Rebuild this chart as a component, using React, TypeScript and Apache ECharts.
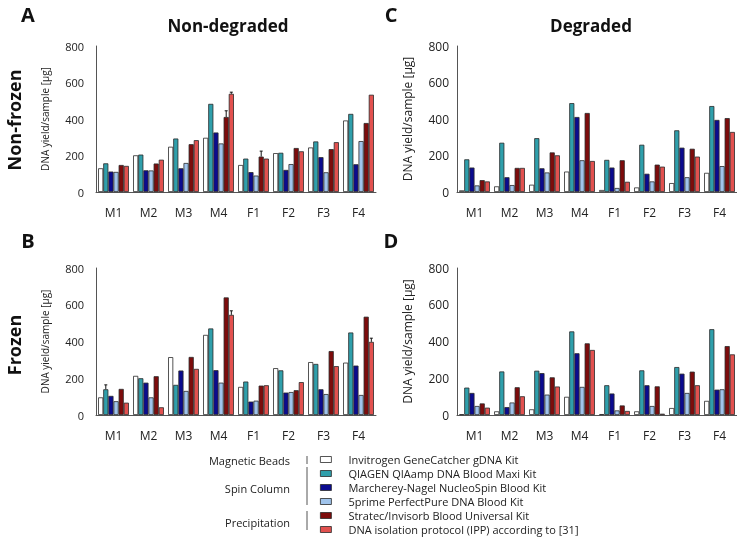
import { useEffect, useRef } from "react";
import * as echarts from "echarts";

const categories = ["M1", "M2", "M3", "M4", "F1", "F2", "F3", "F4"];
const kitNames = [
  "Invitrogen GeneCatcher gDNA Kit",
  "QIAGEN QIAamp DNA Blood Maxi Kit",
  "Marcherey-Nagel NucleoSpin Blood Kit",
  "5prime PerfectPure DNA Blood Kit",
  "Stratec/Invisorb Blood Universal Kit",
  "DNA isolation protocol (IPP) according to [31]",
];

// Panel A: non-degraded, non-frozen (rows = kits, columns = categories)
const panelA = [
  [130, 201, 248, 297, 148, 213, 244, 392],
  [157, 205, 293, 483, 183, 215, 277, 428],
  [112, 119, 130, 326, 109, 121, 191, 152],
  [110, 118, 159, 266, 90, 153, 108, 279],
  [148, 156, 262, 411, 194, 241, 235, 378],
  [143, 177, 284, 538, 183, 223, 273, 533],
];
// Panel B: non-degraded, frozen
const panelB = [
  [96, 213, 315, 436, 153, 255, 288, 285],
  [140, 200, 164, 471, 182, 243, 278, 449],
  [104, 176, 242, 244, 73, 122, 140, 269],
  [75, 96, 131, 176, 78, 125, 114, 109],
  [142, 211, 316, 640, 160, 135, 348, 535],
  [67, 42, 251, 545, 162, 179, 266, 398],
];
// Panel C: degraded, non-frozen
const panelC = [
  [9, 31, 40, 112, 11, 25, 49, 105],
  [179, 270, 295, 487, 176, 259, 338, 471],
  [134, 81, 130, 411, 134, 100, 243, 395],
  [36, 38, 107, 174, 22, 58, 81, 142],
  [65, 132, 217, 433, 174, 150, 237, 405],
  [58, 132, 201, 170, 56, 139, 194, 329],
];
// Panel D: degraded, frozen
const panelD = [
  [4, 20, 31, 99, 5, 20, 38, 77],
  [149, 237, 241, 455, 162, 243, 261, 467],
  [120, 43, 228, 336, 117, 162, 225, 138],
  [49, 68, 111, 153, 25, 49, 120, 140],
  [63, 151, 205, 390, 52, 156, 236, 375],
  [40, 102, 155, 354, 22, 7, 162, 330],
];

// Visible error bars: [kit index, category index, error]
const errorsA = [
  [4, 3, 34],
  [5, 3, 9],
  [4, 4, 30],
];
const errorsB = [
  [1, 0, 24],
  [5, 3, 22],
  [5, 7, 20],
];
const errorsC: number[][] = [];
const errorsD: number[][] = [];

const yTicks = [0, 200, 400, 600, 800];

const kitColors = ["#ffffff", "#2f9fab", "#0b0b8f", "#a0c4ec", "#7d0c0c", "#e2514f"];
const FONT = "'Open Sans', 'Noto Sans', sans-serif";

const panels = [
  { data: panelA, errors: errorsA, left: 96, top: 46, height: 146, labelSize: 11, nameSize: 10, labelMargin: 12, nameGap: 46 },
  { data: panelC, errors: errorsC, left: 457, top: 46, height: 146, labelSize: 12, nameSize: 12, labelMargin: 8, nameGap: 44 },
  { data: panelB, errors: errorsB, left: 96, top: 268, height: 147, labelSize: 11, nameSize: 10, labelMargin: 12, nameGap: 46 },
  { data: panelD, errors: errorsD, left: 457, top: 268, height: 147, labelSize: 12, nameSize: 12, labelMargin: 8, nameGap: 44 },
];

const CAT_GAP = 0.12;

export default function App() {
  const ref = useRef<HTMLDivElement>(null);

  useEffect(() => {
    if (!ref.current) return;
    const chart = echarts.init(ref.current, undefined, { renderer: "svg" });

    const grid = panels.map((p) => ({ left: p.left, top: p.top, width: 280, height: p.height }));
    const xAxis = panels.map((p, i) => ({
      type: "category",
      gridIndex: i,
      data: categories,
      axisLine: { lineStyle: { color: "#555", width: 1 } },
      axisTick: { show: false },
      axisLabel: { fontSize: 12, color: "#222", margin: 14, fontFamily: FONT },
    }));
    const yAxis = panels.map((p, i) => ({
      type: "value",
      gridIndex: i,
      min: yTicks[0],
      max: yTicks[yTicks.length - 1],
      interval: yTicks[1] - yTicks[0],
      splitLine: { show: false },
      axisLine: { show: true, lineStyle: { color: "#555", width: 1 } },
      axisTick: { show: false },
      axisLabel: { fontSize: p.labelSize, color: "#222", margin: p.labelMargin, fontFamily: FONT },
      name: "DNA yield/sample [µg]",
      nameLocation: "middle",
      nameGap: p.nameGap,
      nameTextStyle: { fontSize: p.nameSize, color: "#222", fontFamily: FONT },
    }));

    const series: any[] = [];
    panels.forEach((p, i) => {
      p.data.forEach((vals, k) => {
        series.push({
          type: "bar",
          name: kitNames[k],
          xAxisIndex: i,
          yAxisIndex: i,
          data: vals,
          barGap: "0%",
          barCategoryGap: `${CAT_GAP * 100}%`,
          itemStyle: { color: kitColors[k], borderColor: "#2a2a2a", borderWidth: 0.8 },
          emphasis: { disabled: true },
        });
      });
      if (p.errors.length) {
        series.push({
          type: "custom",
          xAxisIndex: i,
          yAxisIndex: i,
          z: 5,
          data: p.errors.map(([k, c, e]) => [c, p.data[k][c], e, k]),
          encode: { x: 0, y: 1 },
          renderItem: (params: any, api: any) => {
            const c = api.value(0);
            const v = api.value(1);
            const e = api.value(2);
            const k = api.value(3);
            const catW = api.size([1, 0])[0];
            const groupW = catW * (1 - CAT_GAP);
            const bw = groupW / 6;
            const cx = api.coord([c, v])[0] - groupW / 2 + bw * (k + 0.5);
            const yV = api.coord([c, v])[1];
            const yT = api.coord([c, v + e])[1];
            return {
              type: "group",
              children: [
                { type: "line", shape: { x1: cx, y1: yV, x2: cx, y2: yT }, style: { stroke: "#111", lineWidth: 1 } },
                { type: "line", shape: { x1: cx - 1.5, y1: yT, x2: cx + 1.5, y2: yT }, style: { stroke: "#111", lineWidth: 1 } },
              ],
            };
          },
        });
      }
    });

    const bold = (text: string, x: number, y: number, size: number, rotation = 0) => ({
      type: "text",
      x,
      y,
      rotation,
      style: { text, fontSize: size, fontWeight: "bold", fontFamily: FONT, fill: "#111", align: "center", verticalAlign: "middle" },
    });
    const plain = (text: string, x: number, y: number) => ({
      type: "text",
      x,
      y,
      style: { text, fontSize: 11, fontFamily: FONT, fill: "#222", align: "right", verticalAlign: "middle" },
    });
    const vline = (y1: number, y2: number) => ({
      type: "line",
      shape: { x1: 307, y1, x2: 307, y2 },
      style: { stroke: "#555", lineWidth: 1 },
    });

    chart.setOption({
      animation: false,
      grid,
      xAxis,
      yAxis,
      series,
      legend: {
        data: kitNames,
        orient: "vertical",
        left: 320,
        top: 453,
        width: 400,
        height: 140,
        padding: 0,
        icon: "rect",
        itemWidth: 11,
        itemHeight: 6,
        itemGap: 1,
        selectedMode: false,
        itemStyle: { borderColor: "#2a2a2a", borderWidth: 0.8 },
        textStyle: { fontSize: 11, lineHeight: 13, color: "#222", fontFamily: FONT, padding: [0, 0, 0, 12] },
      },
      graphic: [
        bold("A", 28, 14, 20),
        bold("C", 391, 14, 20),
        bold("B", 28, 240, 20),
        bold("D", 391, 240, 20),
        bold("Non-degraded", 228, 25, 17),
        bold("Degraded", 591, 25, 17),
        bold("Non-frozen", 14, 120, 18, Math.PI / 2),
        bold("Frozen", 14, 345, 18, Math.PI / 2),
        plain("Magnetic Beads", 290, 460),
        plain("Spin Column", 290, 488),
        plain("Precipitation", 290, 522),
        vline(456, 464),
        vline(467, 505),
        vline(511, 530),
      ],
    });

    return () => chart.dispose();
  }, []);

  return <div ref={ref} style={{ position: "fixed", left: 0, top: 0, width: 737, height: 539 }} />;
}
